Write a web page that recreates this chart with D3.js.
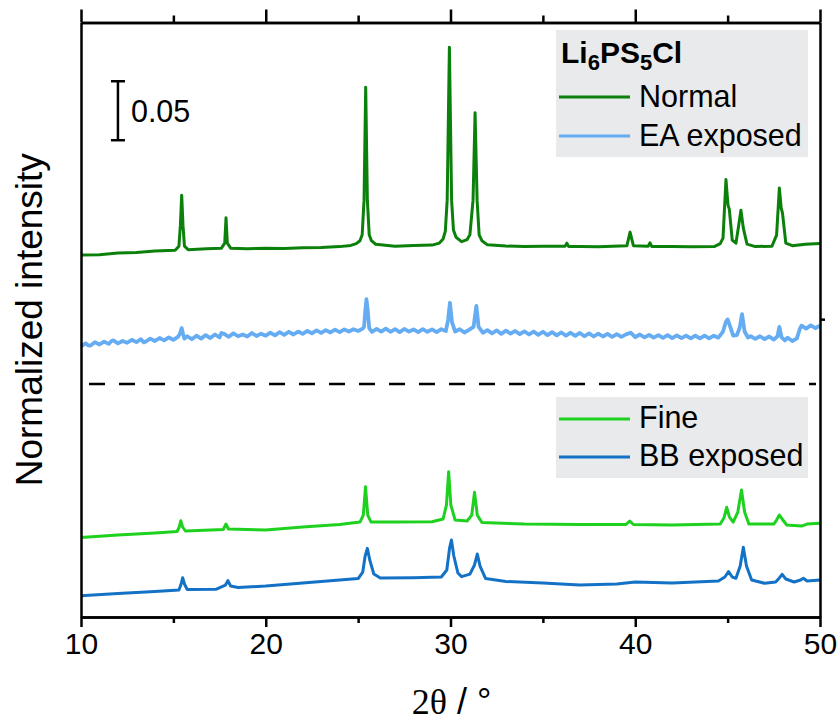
<!DOCTYPE html>
<html>
<head>
<meta charset="utf-8">
<script src="https://cdn.jsdelivr.net/npm/d3@7"></script>
<style>
  html, body { margin: 0; padding: 0; background: #fff; }
  svg { display: block; }
  text { font-family: "Liberation Sans", Arial, sans-serif; fill: #000; }
</style>
</head>
<body>
<svg id="chart" width="838" height="722"></svg>
<script>
// ---------------- DATA ----------------
const xDomain = [10, 50];
const yDomain = [0, 0.504];
const xMajorTicks = [10, 20, 30, 40, 50];
const xMinorTicks = [15, 25, 35, 45];
const rightTicks = [0.2525];
const separatorLevel = 0.1975;
const scaleBarX = 12.0, scaleBarBase = 0.4042, scaleBarLength = 0.05, scaleBarLabel = "0.05";

const seriesNames = ["Normal", "EA exposed", "Fine", "BB exposed"];
const seriesColors = ["#0b800b", "#66acf2", "#1fd11f", "#1372c6"];
const legendTitle = ["Li", "6", "PS", "5", "Cl"];

// [2θ, normalized intensity (offset included)]
const normal = [
  [10.0,0.3068],[11.0,0.3072],[12.0,0.3085],[13.0,0.3090],[14.0,0.3102],[15.1,0.3110],[15.3,0.3144],[15.38,0.3322],[15.45,0.3576],
  [15.52,0.3322],[15.6,0.3144],[15.8,0.3114],[16.8,0.3122],[17.6,0.3127],[17.78,0.3169],[17.85,0.3384],[17.92,0.3169],
  [18.1,0.3127],[19.0,0.3122],[20.0,0.3127],[21.0,0.3124],[22.0,0.3131],[23.0,0.3133],[24.0,0.3140],[24.6,0.3150],
  [24.9,0.3165],[25.1,0.3190],[25.22,0.3240],[25.32,0.3534],
  [25.41,0.4492],[25.5,0.3534],[25.6,0.3240],[25.72,0.3190],[25.95,0.3160],[27.0,0.3144],[28.0,0.3150],[29.0,0.3153],
  [29.4,0.3170],[29.6,0.3205],[29.72,0.3270],[29.82,0.3534],[29.94,0.4831],[30.06,0.3534],[30.16,0.3280],[30.3,0.3219],
  [30.6,0.3182],[30.9,0.3200],[31.05,0.3240],[31.22,0.3534],
  [31.33,0.4274],[31.44,0.3534],[31.55,0.3240],[31.7,0.3190],[32.0,0.3155],[33.0,0.3145],[34.0,0.3140],[35.0,0.3143],
  [36.2,0.3144],[36.3,0.3169],[36.4,0.3140],[37.0,0.3142],[38.0,0.3138],[39.55,0.3148],[39.72,0.3263],[39.9,0.3148],
  [40.7,0.3144],[40.8,0.3172],[40.9,0.3140],[42.0,0.3141],[43.0,0.3138],[44.3,0.3142],[44.6,0.3165],[44.75,0.3212],
  [44.91,0.3709],[45.02,0.3492],[45.09,0.3458],
  [45.25,0.3195],[45.45,0.3169],[45.6,0.3322],[45.72,0.3449],[45.85,0.3297],[46.05,0.3161],[46.5,0.3140],
  [47.4,0.3144],[47.65,0.3237],[47.8,0.3636],[47.9,0.3466],[47.97,0.3424],[48.15,0.3169],[48.5,0.3148],
  [49.2,0.3161],[50.0,0.3167]
];

const eaExposed = [
  [10.00,0.2295],[10.25,0.2320],[10.40,0.2302],[10.50,0.2300],[10.75,0.2330],[11.00,0.2310],[11.25,0.2335],[11.50,0.2315],
  [11.65,0.2340],[11.75,0.2345],[12.00,0.2320],[12.25,0.2340],[12.50,0.2325],[12.75,0.2350],[13.00,0.2330],[13.25,0.2355],
  [13.40,0.2328],[13.50,0.2335],[13.75,0.2360],[14.00,0.2340],[14.25,0.2365],[14.50,0.2345],[14.75,0.2370],[15.00,0.2350],
  [15.25,0.2375],[15.35,0.2400],[15.45,0.2449],[15.53,0.2395],[15.60,0.2360],[15.75,0.2380],[16.00,0.2355],[16.25,0.2385],[16.50,0.2360],
  [16.75,0.2390],[17.00,0.2365],[17.25,0.2395],[17.50,0.2370],[17.60,0.2408],[17.75,0.2400],[18.00,0.2375],[18.25,0.2405],
  [18.50,0.2380],[18.75,0.2395],[19.00,0.2378],[19.25,0.2408],[19.50,0.2382],[19.75,0.2402],[20.00,0.2385],
  [20.25,0.2410],[20.50,0.2388],[20.75,0.2415],[21.00,0.2392],[21.25,0.2418],[21.50,0.2395],[21.75,0.2420],
  [22.00,0.2400],[22.25,0.2425],[22.50,0.2405],[22.75,0.2430],[23.00,0.2408],[23.25,0.2432],[23.50,0.2412],
  [23.75,0.2436],[24.00,0.2415],[24.25,0.2438],[24.50,0.2420],[24.75,0.2440],[25.00,0.2425],[25.25,0.2445],
  [25.32,0.2460],[25.39,0.2600],[25.45,0.2695],[25.52,0.2600],[25.60,0.2450],[25.75,0.2418],[26.00,0.2442],
  [26.25,0.2420],[26.50,0.2445],[26.75,0.2418],[27.00,0.2440],[27.25,0.2415],[27.50,0.2442],[27.75,0.2420],
  [28.00,0.2438],[28.25,0.2415],[28.50,0.2440],[28.75,0.2418],[29.00,0.2438],[29.25,0.2415],[29.50,0.2440],
  [29.75,0.2425],[29.87,0.2520],[29.97,0.2664],[30.08,0.2500],[30.25,0.2420],[30.50,0.2440],[30.75,0.2412],
  [31.00,0.2435],[31.25,0.2460],[31.40,0.2638],[31.52,0.2460],[31.75,0.2410],[32.00,0.2432],[32.25,0.2405],
  [32.50,0.2430],[32.75,0.2400],[33.00,0.2428],[33.25,0.2402],[33.50,0.2425],[33.75,0.2398],[34.00,0.2422],
  [34.25,0.2395],[34.50,0.2420],[34.75,0.2392],[35.00,0.2418],[35.25,0.2390],[35.50,0.2415],[35.75,0.2388],
  [36.00,0.2412],[36.25,0.2385],[36.50,0.2410],[36.75,0.2383],[37.00,0.2408],[37.25,0.2380],[37.50,0.2405],
  [37.75,0.2378],[38.00,0.2402],[38.25,0.2378],[38.50,0.2400],[38.75,0.2375],[39.00,0.2398],[39.25,0.2375],
  [39.50,0.2396],[39.75,0.2410],[40.00,0.2372],[40.25,0.2395],[40.50,0.2370],[40.75,0.2392],[41.00,0.2368],
  [41.25,0.2390],[41.50,0.2366],[41.75,0.2390],[42.00,0.2365],[42.25,0.2388],[42.50,0.2364],[42.75,0.2386],
  [43.00,0.2362],[43.25,0.2386],[43.50,0.2362],[43.75,0.2385],[44.00,0.2362],[44.25,0.2385],[44.50,0.2368],
  [44.75,0.2420],[44.90,0.2500],[45.00,0.2523],[45.12,0.2470],[45.30,0.2385],[45.50,0.2390],[45.65,0.2450],
  [45.78,0.2568],[45.92,0.2420],[46.10,0.2370],[46.25,0.2380],[46.50,0.2358],[46.75,0.2380],[47.00,0.2355],
  [47.25,0.2378],[47.50,0.2352],[47.70,0.2380],[47.80,0.2460],[47.92,0.2370],[48.10,0.2345],[48.25,0.2368],
  [48.50,0.2340],[48.75,0.2362],[48.90,0.2440],[49.00,0.2470],[49.25,0.2445],[49.50,0.2472],[49.75,0.2448],
  [50.00,0.2470]
];

const fine = [
  [10.0,0.0675],[12.0,0.0695],[14.0,0.0712],[15.2,0.0725],[15.32,0.0763],[15.4,0.0816],[15.5,0.0763],
  [15.65,0.0729],[17.7,0.0742],[17.85,0.0788],[17.98,0.0746],[20.0,0.0737],[22.0,0.0763],[24.0,0.0784],
  [25.1,0.0805],[25.28,0.0864],[25.4,0.1104],[25.52,0.0864],[25.7,0.0805],[27.0,0.0805],[29.0,0.0808],
  [29.6,0.0831],[29.78,0.0949],[29.9,0.1231],[30.02,0.0949],[30.25,0.0822],[30.9,0.0814],[31.15,0.0864],
  [31.3,0.1057],[31.45,0.0864],[31.7,0.0801],[34.0,0.0788],[37.0,0.0784],[39.5,0.0784],[39.7,0.0814],
  [39.9,0.0784],[42.0,0.0780],[44.6,0.0788],[44.8,0.0839],[44.95,0.0930],[45.1,0.0847],[45.3,0.0805],
  [45.55,0.0890],[45.75,0.1076],[45.92,0.0890],[46.15,0.0788],[47.5,0.0788],[47.65,0.0822],[47.8,0.0864],
  [47.95,0.0831],[48.2,0.0780],[49.0,0.0771],[49.3,0.0788],[50.0,0.0794]
];

const bbExposed = [
  [10.0,0.0181],[12.0,0.0199],[14.0,0.0216],[15.3,0.0229],[15.42,0.0280],[15.5,0.0333],[15.6,0.0280],
  [15.75,0.0233],[17.3,0.0235],[17.82,0.0271],[17.95,0.0308],[18.1,0.0263],[18.5,0.0250],[20.0,0.0263],
  [22.0,0.0288],[24.0,0.0314],[25.0,0.0326],[25.25,0.0381],[25.38,0.0517],[25.5,0.0582],[25.63,0.0483],
  [25.85,0.0364],[26.2,0.0331],[28.0,0.0333],[29.5,0.0339],[29.8,0.0398],[29.95,0.0585],[30.05,0.0653],
  [30.18,0.0517],[30.4,0.0373],[30.6,0.0342],[31.05,0.0364],[31.3,0.0441],[31.45,0.0534],[31.6,0.0432],
  [31.9,0.0326],[33.0,0.0301],[35.0,0.0288],[37.0,0.0271],[39.0,0.0280],[40.0,0.0297],[42.0,0.0288],
  [44.5,0.0305],[44.85,0.0339],[45.05,0.0384],[45.25,0.0339],[45.45,0.0328],[45.68,0.0432],[45.85,0.0591],
  [46.02,0.0432],[46.3,0.0314],[47.0,0.0286],[47.6,0.0297],[47.8,0.0331],[47.95,0.0362],[48.15,0.0322],
  [48.6,0.0297],[48.95,0.0314],[49.1,0.0328],[49.3,0.0305],[50.0,0.0314]
];

const seriesData = [normal, eaExposed, fine, bbExposed];

// ---------------- CHART ----------------
const svg = d3.select("#chart");
const plotLeft = 81, plotRight = 820, plotTop = 22.5, plotBottom = 617;
const x = d3.scaleLinear().domain(xDomain).range([plotLeft, plotRight]);
const y = d3.scaleLinear().domain(yDomain).range([plotBottom, plotTop]);
const font = '"Liberation Sans", Arial, sans-serif';
const axisW = 2.5;

// series
const line = d3.line().x(d => x(d[0])).y(d => y(d[1]));
seriesData.forEach((s, i) => {
  svg.append("path").datum(s)
    .attr("d", line)
    .attr("fill", "none")
    .attr("stroke", seriesColors[i])
    .attr("stroke-width", i === 1 ? 3.8 : 3)
    .attr("stroke-linejoin", "round");
});

// separator
svg.append("line")
  .attr("x1", x(xDomain[0]) + 8).attr("x2", x(xDomain[1]) - 4)
  .attr("y1", y(separatorLevel)).attr("y2", y(separatorLevel))
  .attr("stroke", "#000").attr("stroke-width", 2.5)
  .attr("stroke-dasharray", "16,14");

// axes
function styleAxis(g) {
  g.selectAll("path").attr("stroke", "#000").attr("stroke-width", axisW);
  g.selectAll("line").attr("stroke", "#000").attr("stroke-width", axisW);
}
const gBottom = svg.append("g").attr("transform", `translate(0,${plotBottom})`)
  .call(d3.axisBottom(x).tickValues(xMajorTicks).tickSize(10).tickSizeOuter(0).tickPadding(6).tickFormat(d3.format("d")));
styleAxis(gBottom);
gBottom.selectAll("text").attr("font-size", 30).attr("font-family", font).attr("fill", "#000");
const gBottomMinor = svg.append("g").attr("transform", `translate(0,${plotBottom})`)
  .call(d3.axisBottom(x).tickValues(xMinorTicks).tickSize(6).tickSizeOuter(0).tickFormat(""));
styleAxis(gBottomMinor);

const gTop = svg.append("g").attr("transform", `translate(0,${plotTop})`)
  .call(d3.axisTop(x).tickValues(xMajorTicks).tickSize(13).tickSizeOuter(0).tickFormat(""));
styleAxis(gTop);
const gTopMinor = svg.append("g").attr("transform", `translate(0,${plotTop})`)
  .call(d3.axisTop(x).tickValues(xMinorTicks).tickSize(7).tickSizeOuter(0).tickFormat(""));
styleAxis(gTopMinor);

const gLeft = svg.append("g").attr("transform", `translate(${plotLeft},0)`)
  .call(d3.axisLeft(y).tickValues([]).tickSizeOuter(0));
styleAxis(gLeft);
const gRight = svg.append("g").attr("transform", `translate(${plotRight},0)`)
  .call(d3.axisRight(y).tickValues(rightTicks).tickSize(5).tickSizeOuter(0).tickFormat(""));
styleAxis(gRight);

// axis titles
svg.append("text")
  .attr("transform", `translate(42,${(plotTop + plotBottom) / 2 + 0}) rotate(-90)`)
  .attr("text-anchor", "middle").attr("font-size", 37).attr("font-family", font)
  .text("Normalized intensity");

const xt = svg.append("text").attr("x", (plotLeft + plotRight) / 2 + 1).attr("y", 714)
  .attr("text-anchor", "middle").attr("font-size", 36).attr("font-family", font);
xt.append("tspan").attr("font-family", '"Liberation Serif", "Times New Roman", serif').text("2θ");
xt.append("tspan").text(" / °");

// scale bar
const sbx = x(scaleBarX), sb0 = y(scaleBarBase), sb1 = y(scaleBarBase + scaleBarLength);
const sb = svg.append("g").attr("stroke", "#000").attr("stroke-width", 2.5);
sb.append("line").attr("x1", sbx).attr("x2", sbx).attr("y1", sb0).attr("y2", sb1);
sb.append("line").attr("x1", sbx - 7).attr("x2", sbx + 7).attr("y1", sb0).attr("y2", sb0);
sb.append("line").attr("x1", sbx - 7).attr("x2", sbx + 7).attr("y1", sb1).attr("y2", sb1);
svg.append("text").attr("x", sbx + 13).attr("y", (sb0 + sb1) / 2 + 11)
  .attr("font-size", 30.5).attr("font-family", font).text(scaleBarLabel);

// legends
function legendBox(x0, y0, w, h) {
  svg.append("rect").attr("x", x0).attr("y", y0).attr("width", w).attr("height", h).attr("fill", "#e9eaec");
}
function legendEntry(idx, ly, ty) {
  svg.append("line").attr("x1", 559).attr("x2", 630).attr("y1", ly).attr("y2", ly)
    .attr("stroke", seriesColors[idx]).attr("stroke-width", 3);
  svg.append("text").attr("x", 639).attr("y", ty).attr("font-size", 30.5).attr("font-family", font)
    .text(seriesNames[idx]);
}
legendBox(556, 30, 252, 127);
const title = svg.append("text").attr("x", 561).attr("y", 63).attr("font-size", 30)
  .attr("font-weight", "bold").attr("font-family", font);
legendTitle.forEach((t, i) => {
  const isSub = i % 2 === 1;
  title.append("tspan").text(t)
    .attr("font-size", isSub ? 22 : 30)
    .attr("dy", isSub ? 7 : (i === 0 ? 0 : -7));
});
legendEntry(0, 97, 107);
legendEntry(1, 136, 146);

legendBox(556, 397, 252, 81);
legendEntry(2, 419, 428);
legendEntry(3, 457, 466);
</script>
</body>
</html>
